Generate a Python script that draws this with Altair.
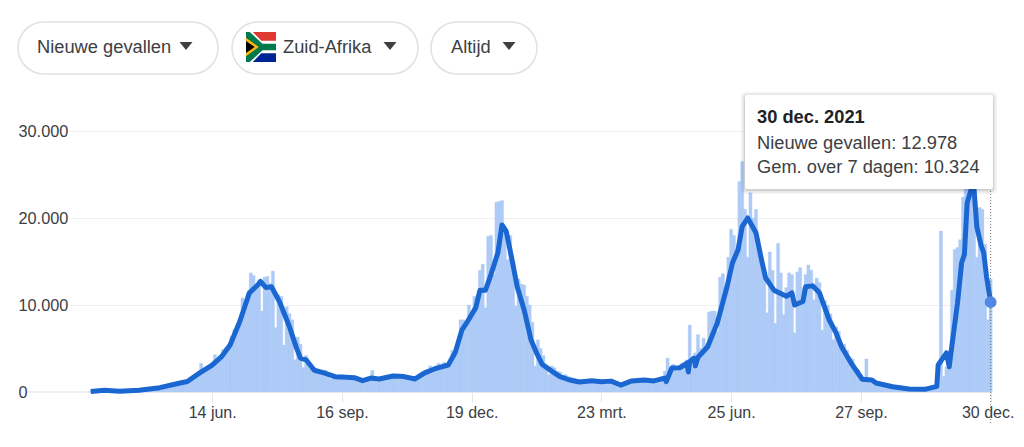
import altair as alt
import pandas as pd

FONT = "Liberation Sans"
TXT = "#3c4043"

# daily cases, read every second day from 18 Mar 2020
bar_values = [
 30,80,150,120,60,90,130,110,70,60,
 80,110,90,100,130,160,140,180,200,230,
 260,300,350,420,480,530,620,700,800,880,
 950,1050,1150,1000,1250,1300,1350,1450,1800,2200,
 3300,2300,2700,3000,3400,4300,3800,4200,4900,5100,
 5500,6400,7200,7700,8200,10800,9800,11400,13700,13400,
 12000,12900,9300,13200,13300,12500,13900,7400,11200,11000,
 5400,9800,9000,8300,3700,6300,5500,2800,4200,3500,
 3000,2800,2600,2500,2000,2500,2200,1500,1900,1700,
 1800,2000,1900,1400,1700,1600,1500,1300,1200,1400,
 1500,1700,2500,1600,1700,1500,1700,1900,1800,2000,
 1700,1900,1500,1700,1600,1500,1400,1800,1700,2100,
 2300,2400,2500,3000,2800,3000,3300,3000,3400,3200,
 3200,4800,4500,5000,8300,8300,7500,10000,9000,11000,
 10200,14000,14700,9700,17900,18000,13500,21800,21900,22000,
 19000,15200,18000,15000,9900,13000,12400,12300,11000,10000,
 8000,3000,6000,5000,4200,3000,2000,3000,2800,2400,
 2300,1900,2000,1800,1700,1600,1500,1400,1200,1300,
 1400,1100,1300,1400,1300,1200,1300,1200,1100,1300,
 1100,900,800,700,1000,1300,1400,1200,1300,1400,
 1500,1400,1300,1400,1500,1300,1500,1800,2400,3900,
 2600,3200,2900,3000,3300,2900,3700,7700,3000,4500,
 6600,5000,6200,5600,9200,9300,9300,7000,13200,13600,
 11000,15500,18700,18000,16000,24200,26500,21000,15500,22900,
 20000,21000,17000,14500,13500,9100,16100,14000,7900,17100,
 13700,8900,12000,13700,13500,6800,13800,14300,12000,13500,
 14600,14000,10600,13100,12600,7100,10500,10000,9000,6000,
 7500,7000,5000,5500,4800,4000,3800,2800,2600,2000,
 1700,3800,1400,1500,1200,1000,900,800,750,700,
 650,600,550,500,450,420,400,380,350,340,
 330,330,350,350,380,450,650,1500,18500,1800,
 2900,3000,11700,16400,16600,17500,22400,24000,26000,27000,
 26000,15500,21200,21000,17000,8300,12978,
]

# 7-day average: days since 18 Mar 2020, and value
line_days = [0,10,21,35,50,64,70,79,88,95,101,108,115,121,123,127,131,137,144,149,152,156,
 162,169,177,185,191,197,203,209,219,227,235,242,249,259,264,269,273,279,282,286,290,295,
 298,301,305,309,314,319,323,327,334,340,347,354,363,370,377,384,392,401,408,416,417,421,
 427,429,432,433,434,437,438,440,447,454,461,465,469,472,476,482,486,489,495,504,508,510,
 516,518,523,528,535,540,544,551,559,566,569,581,593,605,613,614,620,622,624,628,631,633,
 635,638,640,642,645,647,649,652]
line_values = [50,200,100,200,500,1000,1200,2200,3100,4100,5400,8100,11400,12300,12700,12000,
 12100,10300,7500,5100,3900,3700,2500,2200,1760,1700,1650,1300,1600,1500,1840,1770,1500,2200,
 2650,3100,4500,7150,8100,9700,11700,11700,13500,16000,19200,18500,15400,12100,9450,6000,4500,
 3200,2400,1770,1380,1150,1300,1190,1250,800,1270,1380,1270,1600,1190,2760,2800,3000,3340,2300,
 3500,3900,3000,4000,5200,7950,12100,14850,16350,19000,20000,18300,15200,13100,11700,11000,11400,
 10000,10400,12100,12200,11400,8300,6800,5200,3300,1470,1380,1030,600,350,330,650,3100,4500,2900,
 5400,10200,14850,15800,21750,23300,23300,19000,16900,16000,13300,10324]

tick_days = [(2020,6,14),(2020,9,16),(2020,12,19),(2021,3,23),(2021,6,25),(2021,9,27),(2021,12,30)]
y_ticks = [0,10000,20000,30000]
selectors = ["Nieuwe gevallen","Zuid-Afrika","Altijd"]
tip_title = "30 dec. 2021"
tip_lines = ["Nieuwe gevallen: 12.978","Gem. over 7 dagen: 10.324"]

start = pd.Timestamp("2020-03-18")
bars = pd.DataFrame({"d":pd.date_range(start,periods=len(bar_values),freq="2D").strftime("%Y-%m-%dT00:00:00"),"v":bar_values})
line = pd.DataFrame({"d":[(start+pd.Timedelta(days=n)).strftime("%Y-%m-%dT00:00:00") for n in line_days],"v":line_values})
last = line.tail(1)
one = pd.DataFrame({"a":[0]})

L, T = 70, 131   # page position of the plot origin
X = lambda p: alt.value(p-L)
Y = lambda p: alt.value(p-T)

xscale = alt.Scale(domain=[alt.DateTime(year=2020,month=3,date=3),alt.DateTime(year=2021,month=12,date=31)],padding=0)
yscale = alt.Scale(domain=[0,30000])
xe = alt.X("d:T",scale=xscale,title=None,axis=alt.Axis(
    values=[alt.DateTime(year=a,month=b,date=c) for a,b,c in tick_days],
    labelExpr="date(datum.value)+' '+['jan.','feb.','mrt.','apr.','mei','jun.','jul.','aug.','sep.','okt.','nov.','dec.'][month(datum.value)]",
    grid=False,domain=False,tickColor="#e6e6e6",tickSize=10,labelPadding=2,labelFont=FONT,labelFontSize=16,
    labelOffset=alt.ExprRef(expr="datum.value > 1640000000000 ? -3 : 0"),
    labelColor=TXT,labelFlush=False,labelOverlap=False,labelAngle=0))
ye = alt.Y("v:Q",scale=yscale,title=None,axis=alt.Axis(
    values=y_ticks,labelExpr="replace(format(datum.value,','),',','.')",labelAlign="left",labelPadding=52,
    tickSize=0,domain=False,grid=True,gridColor="#efefef",gridWidth=1,labelFont=FONT,labelFontSize=16.3,labelColor=TXT))

lay = []
lay.append(alt.Chart(one).mark_rule(color="#efefef",strokeWidth=2).encode(x=X(28),x2=X(992),y=alt.Y(datum=0,scale=yscale)))
lay.append(alt.Chart(bars).mark_bar(color="#aecbf7",size=3.2,opacity=1,stroke="#aecbf7",strokeWidth=0.3).encode(x=xe,y=ye))
lay.append(alt.Chart(line).mark_line(color="#1a67d2",strokeWidth=5,strokeJoin="round").encode(x=xe,y=ye))
lay.append(alt.Chart(last).mark_rule(color="#777777",strokeWidth=1,strokeDash=[1,2]).encode(x=xe,y=Y(185),y2=Y(424)))
lay.append(alt.Chart(last).mark_point(filled=True,size=140,opacity=1,color="#5088e3").encode(x=xe,y=ye))

def rect(x0,x1,y0,y1,**kw):
    return alt.Chart(one).mark_rect(**kw).encode(x=X(x0),x2=X(x1),y=Y(y0),y2=Y(y1))
def text(s,x,y,size=18.3,**kw):
    return alt.Chart(one).mark_text(text=s,align="left",baseline="middle",font=FONT,fontSize=size,color=kw.pop("color",TXT),**kw).encode(x=X(x),y=Y(y))
def shape(path,cx,cy,span,color):
    return alt.Chart(one).mark_point(shape=path,filled=True,size=span*span,color=color,opacity=1,strokeWidth=0).encode(x=X(cx),y=Y(cy))

# tooltip
for k,op in [(4,0.04),(2.5,0.06),(1,0.09)]:
    lay.append(rect(745-k,993+k,95-k+1,189+k+1,fill="#000000",opacity=op,cornerRadius=4))
lay.append(rect(745,993,95,189,fill="#ffffff",cornerRadius=2))
lay.append(text(tip_title,757,118,fontWeight="bold",color="#202124"))
lay.append(text(tip_lines[0],757,144))
lay.append(text(tip_lines[1],757,168))

# selector pills
PY0,PY1 = 22,74
caret = "M -1 -0.6 L 1 -0.6 L 0 0.6 Z"
for (a,b),tx,s,cx in zip([(18,218),(232,418),(431,537)],[37,283,451],selectors,[186,390,509]):
    lay.append(rect(a,b,PY0,PY1,fill="#ffffff",stroke="#dfe1e5",strokeWidth=1.5,cornerRadius=26))
    lay.append(text(s,tx,48))
    lay.append(shape(caret,cx,46,13,"#3c4043"))

# South African flag icon
fx,fy,fs = 261,47,30
lay.append(rect(fx-15,fx+15,fy-15,fy+15,fill="#ffffff",cornerRadius=2))
lay.append(shape("M -0.55 -1 L 1 -1 L 1 -0.42 L 0.02 -0.42 Z",fx,fy,fs,"#de3831"))
lay.append(shape("M -0.55 1 L 1 1 L 1 0.42 L 0.02 0.42 Z",fx,fy,fs,"#002395"))
lay.append(shape("M -1 -1 L -0.75 -1 L 0.1 -0.22 L 1 -0.22 L 1 0.22 L 0.1 0.22 L -0.75 1 L -1 1 Z",fx,fy,fs,"#007a4d"))
lay.append(shape("M -1 -0.62 L -0.15 0 L -1 0.62 Z",fx,fy,fs,"#ffb612"))
lay.append(shape("M -1 -0.4 L -0.42 0 L -1 0.4 Z",fx,fy,fs,"#000000"))

chart = alt.layer(*lay).resolve_scale(x="shared",y="shared").properties(
    width=922,height=261,
    background="#ffffff",
    autosize=alt.AutoSizeParams(type="none"),
    padding={"left":62,"top":123,"right":24,"bottom":40},
).configure_view(stroke=None)
chart.save("out.html",embed_options={"renderer":"svg","actions":False})
